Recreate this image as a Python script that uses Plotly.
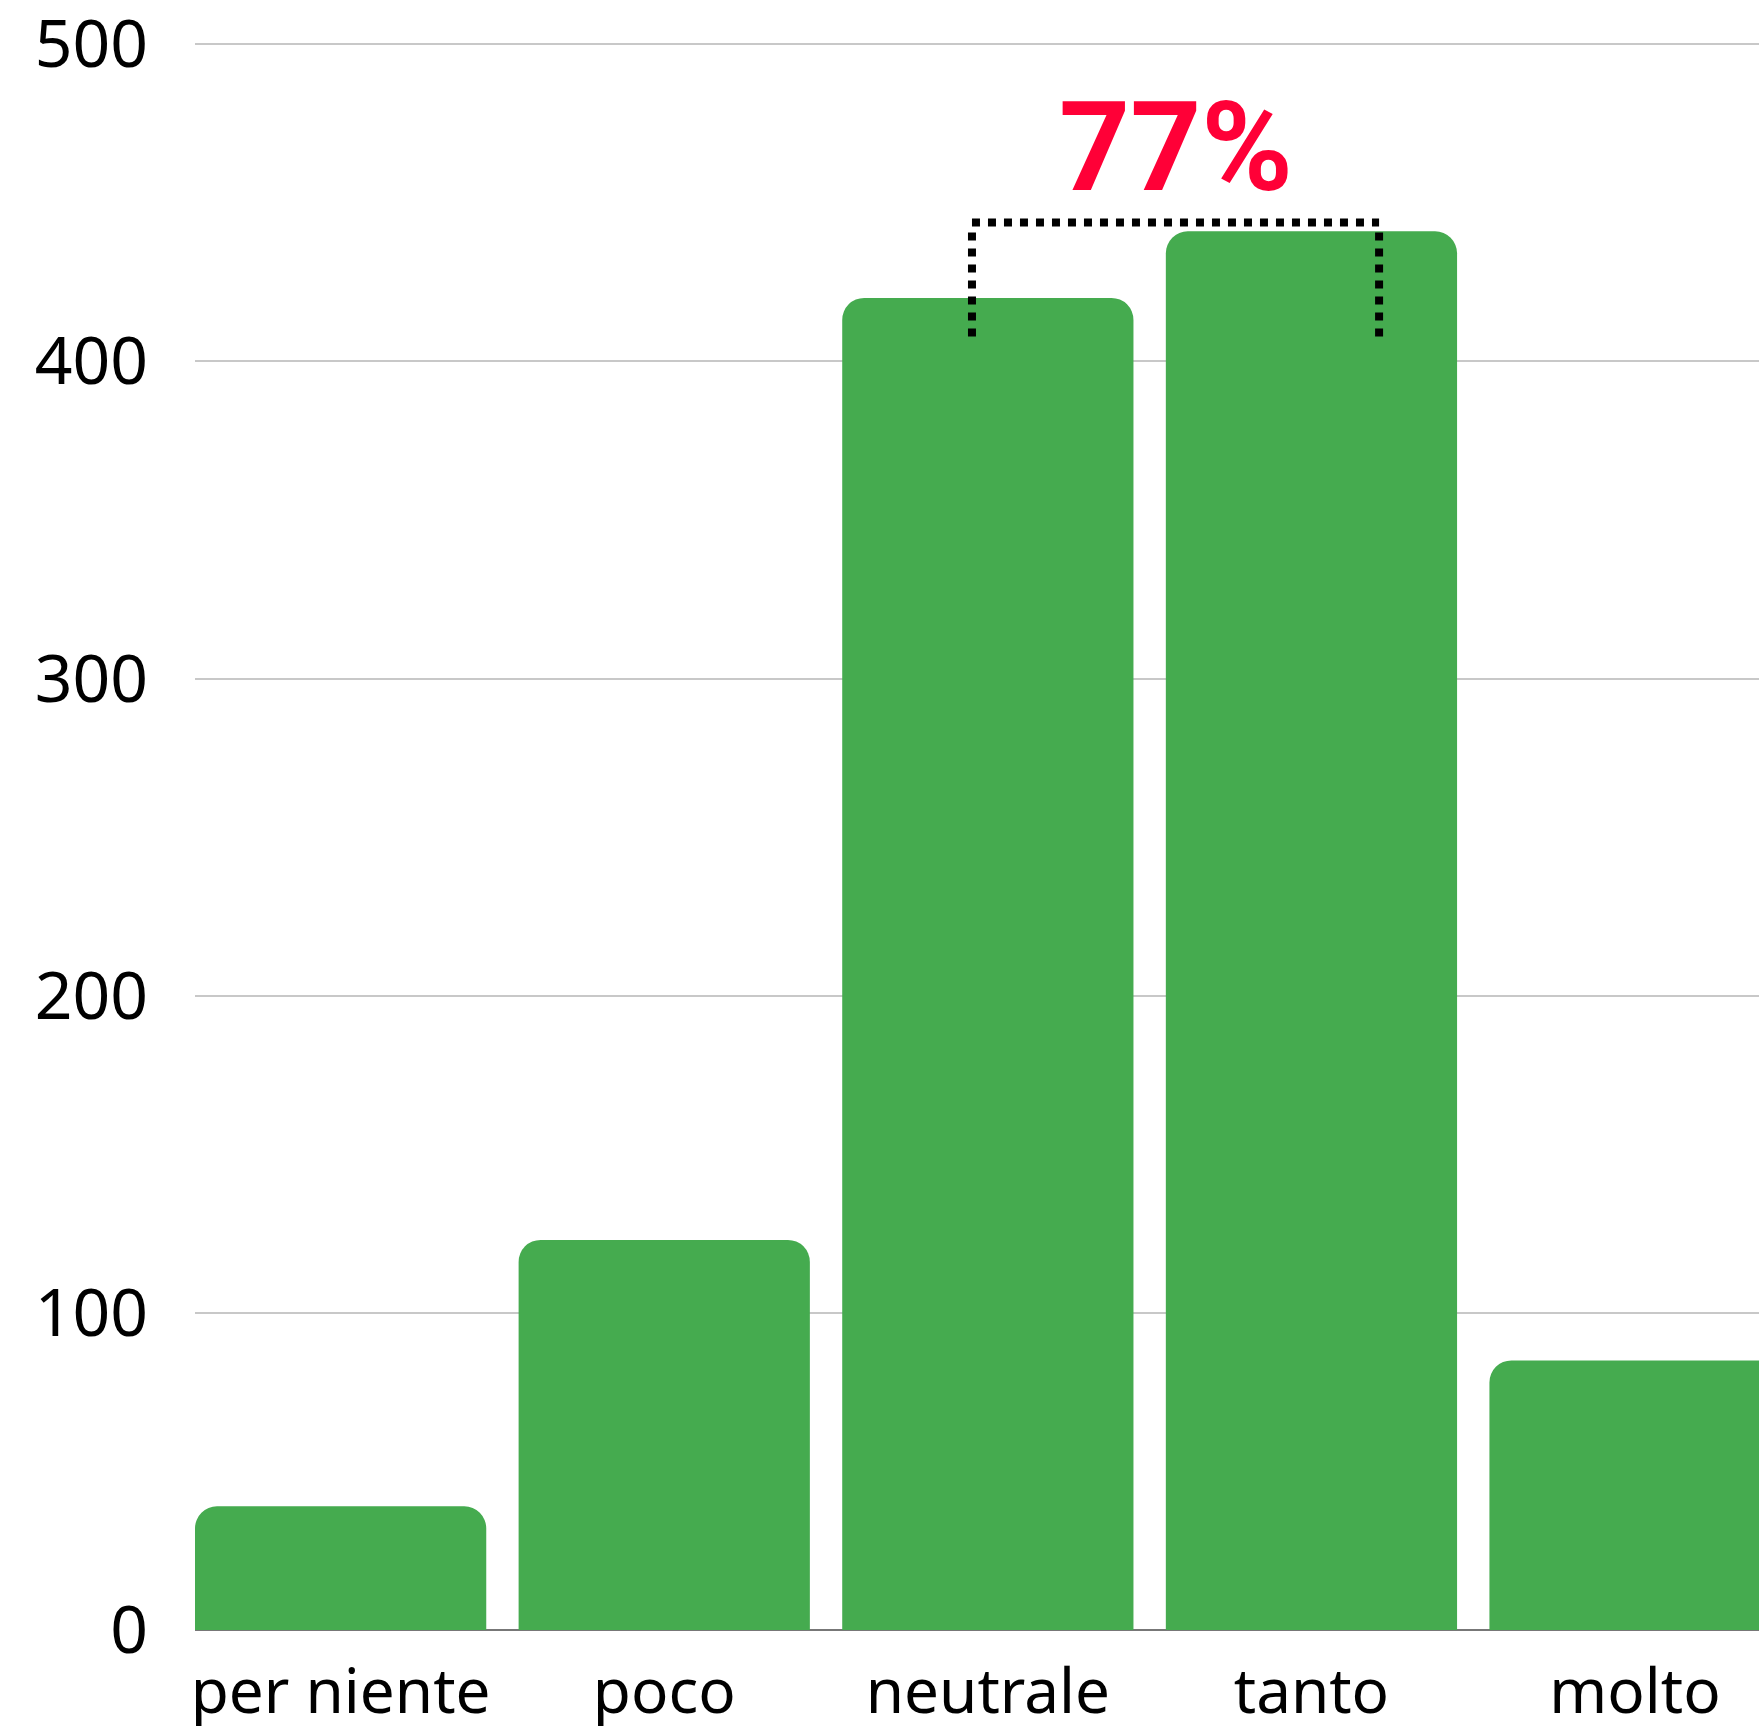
import plotly.graph_objects as go

# Survey answers and how many respondents chose each one
categories = ["per niente", "poco", "neutrale", "tanto", "molto"]
counts = [39, 123, 420, 441, 85]

y_ticks = [0, 100, 200, 300, 400, 500]
highlight_label = "77%"

BAR_GREEN = "#45AB4F"
ACCENT_RED = "#FF0037"
FONT_FAMILY = "Noto Sans, Open Sans, sans-serif"

fig = go.Figure(
    go.Bar(
        x=categories,
        y=counts,
        marker=dict(color=BAR_GREEN, line=dict(width=0), cornerradius=22),
        hoverinfo="skip",
    )
)

# Dotted bracket joining the "neutrale" and "tanto" bars
bx0, bx1 = 1.951, 3.209
b_top, b_bottom = 443.8, 407.8
bracket_line = dict(color="#000000", width=8, dash="dot")
for (xa, ya, xb, yb) in [
    (bx0, b_top - 3.2, bx0, b_bottom),
    (bx0, b_top, bx1, b_top),
    (bx1, b_top - 3.2, bx1, b_bottom),
]:
    fig.add_shape(type="line", xref="x", yref="y", x0=xa, y0=ya, x1=xb, y1=yb,
                  line=bracket_line, layer="above")

fig.add_annotation(
    x=(bx0 + bx1) / 2, y=467.5, xref="x", yref="y",
    text=f"<b>{highlight_label}</b>", showarrow=False,
    xanchor="center", yanchor="middle",
    font=dict(family="Roboto, sans-serif", size=124, color=ACCENT_RED),
)

fig.update_layout(
    width=1759, height=1726,
    margin=dict(l=195, r=0, t=41, b=96),
    paper_bgcolor="#ffffff", plot_bgcolor="#ffffff",
    bargap=0.1, showlegend=False,
    xaxis=dict(
        type="category", range=[-0.45, 4.383], automargin=False,
        showgrid=False, zeroline=False, showline=False, ticks="",
        tickfont=dict(family=FONT_FAMILY, size=62, color="#000000"),
        ticklabelstandoff=20, ticklabeloverflow="allow",
    ),
    yaxis=dict(
        range=[0, 501], tickvals=y_ticks, ticktext=[str(v) for v in y_ticks],
        automargin=False,
        showgrid=True, gridcolor="#c8c8c8", gridwidth=1.5,
        zeroline=True, zerolinecolor="#777777", zerolinewidth=2,
        showline=False, ticks="",
        tickfont=dict(family=FONT_FAMILY, size=66, color="#000000"),
        ticklabelstandoff=46, ticklabeloverflow="allow",
    ),
)

fig.write_html("out.html")
